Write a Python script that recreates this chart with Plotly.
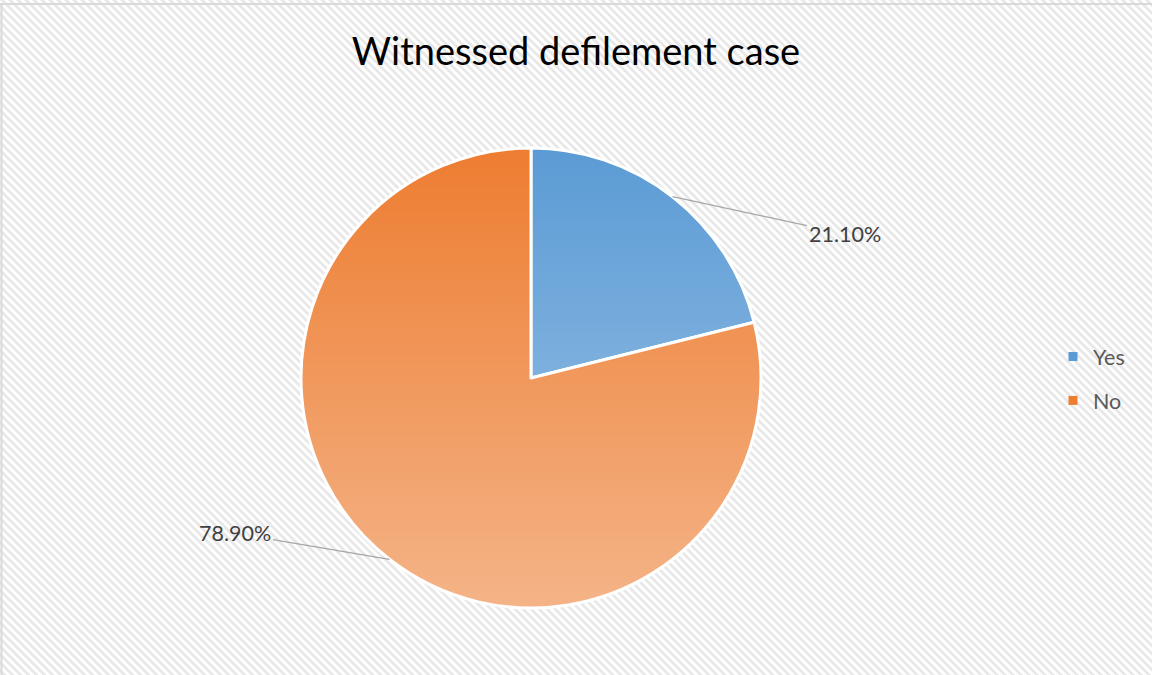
import base64
import math
import plotly.graph_objects as go

# ---- data ----
categories = ["Yes", "No"]
percent_values = [21.1, 78.9]
slice_colors = ["#5B9BD5", "#ED7D31"]
title_text = "Witnessed defilement case"

# ---- layout geometry (pixels) ----
W, H = 1152, 675
CX, CY, R = 531, 378, 230
label_offsets = [(172, 37), (-154, -26)]  # text offset from leader start (px)

dom_x = [(CX - R) / W, (CX + R) / W]
dom_y = [1 - (CY + R) / H, 1 - (CY - R) / H]

fig = go.Figure()

fig.add_trace(go.Pie(
    labels=categories,
    values=percent_values,
    sort=False,
    direction="clockwise",
    rotation=0,
    marker=dict(colors=slice_colors, line=dict(color="white", width=3)),
    textinfo="none",
    hoverinfo="label+percent",
    showlegend=False,
    domain=dict(x=dom_x, y=dom_y),
))

# legend entries (one group each, for spacing)
for i, (cat, col) in enumerate(zip(categories, slice_colors)):
    fig.add_trace(go.Scatter(
        x=[None], y=[None], mode="markers", name=cat,
        marker=dict(symbol="square", size=9, color=col),
        legendgroup=f"g{i}", showlegend=True, hoverinfo="skip",
    ))

# labels with leader lines, positioned at slice mid-angles
total = sum(percent_values)
start = 0.0
annotations = []
for v, (dx, dy) in zip(percent_values, label_offsets):
    mid = (start + v / 2) / total * 2 * math.pi
    start += v
    px = CX + R * math.sin(mid)
    py = CY - R * math.cos(mid)
    annotations.append(dict(
        x=px / W, y=1 - py / H, xref="paper", yref="paper",
        text=f"{v:.2f}%", showarrow=True, arrowhead=0, arrowwidth=1.3,
        arrowcolor="#A6A6A6", ax=dx, ay=dy, standoff=0,
        font=dict(family="Lato", size=21.5, color="#404040"),
    ))

# hatch background
bg_svg = (
    f'<svg xmlns="http://www.w3.org/2000/svg" width="{W}" height="{H}" viewBox="0 0 {W} {H}">'
    '<defs><pattern id="p" width="5.66" height="10" patternUnits="userSpaceOnUse" '
    'patternTransform="rotate(-45)"><rect x="0" y="0" width="2.83" height="10" fill="#E8E8E8"/></pattern></defs>'
    f'<rect width="{W}" height="{H}" fill="#FFFFFF"/>'
    f'<rect width="{W}" height="{H}" fill="url(#p)"/></svg>'
)
bg_uri = "data:image/svg+xml;base64," + base64.b64encode(bg_svg.encode()).decode()

# vertical light gradient over the pie disk
d = 2 * R
grad_svg = (
    f'<svg xmlns="http://www.w3.org/2000/svg" width="{d}" height="{d}" viewBox="0 0 {d} {d}">'
    '<defs><linearGradient id="g" x1="0" y1="0" x2="0" y2="1">'
    '<stop offset="0" stop-color="#FFFFFF" stop-opacity="0"/>'
    '<stop offset="1" stop-color="#FFFFFF" stop-opacity="0.42"/>'
    '</linearGradient></defs>'
    f'<circle cx="{R}" cy="{R}" r="{R - 1}" fill="url(#g)"/></svg>'
)
grad_uri = "data:image/svg+xml;base64," + base64.b64encode(grad_svg.encode()).decode()

fig.update_layout(
    width=W, height=H,
    margin=dict(l=0, r=0, t=0, b=0),
    paper_bgcolor="white",
    plot_bgcolor="rgba(0,0,0,0)",
    title=dict(text=title_text, x=0.5, xanchor="center", y=1 - 52 / H, yanchor="middle",
               font=dict(family="Lato", size=38, color="#000000")),
    xaxis=dict(visible=False),
    yaxis=dict(visible=False),
    legend=dict(x=1053 / W, xanchor="left", y=1 - 336 / H, yanchor="top",
                bgcolor="rgba(0,0,0,0)", tracegroupgap=13,
                font=dict(family="Lato", size=21.5, color="#595959")),
    annotations=annotations,
    images=[
        dict(source=bg_uri, xref="paper", yref="paper", x=0, y=1, sizex=1, sizey=1,
             xanchor="left", yanchor="top", sizing="stretch", layer="below"),
        dict(source=grad_uri, xref="paper", yref="paper", x=dom_x[0], y=dom_y[1],
             sizex=dom_x[1] - dom_x[0], sizey=dom_y[1] - dom_y[0],
             xanchor="left", yanchor="top", sizing="stretch", layer="above"),
    ],
    shapes=[
        dict(type="line", xref="paper", yref="paper", x0=0, x1=1, y0=1 - 4 / H, y1=1 - 4 / H,
             line=dict(color="#D9D9D9", width=2)),
        dict(type="line", xref="paper", yref="paper", x0=1.5 / W, x1=1.5 / W, y0=0, y1=1 - 4 / H,
             line=dict(color="#D9D9D9", width=2)),
    ],
)

fig.write_html(
    "out.html",
    config={"displayModeBar": False},
    post_script="document.body.style.margin='0';document.body.style.overflow='hidden';",
)
